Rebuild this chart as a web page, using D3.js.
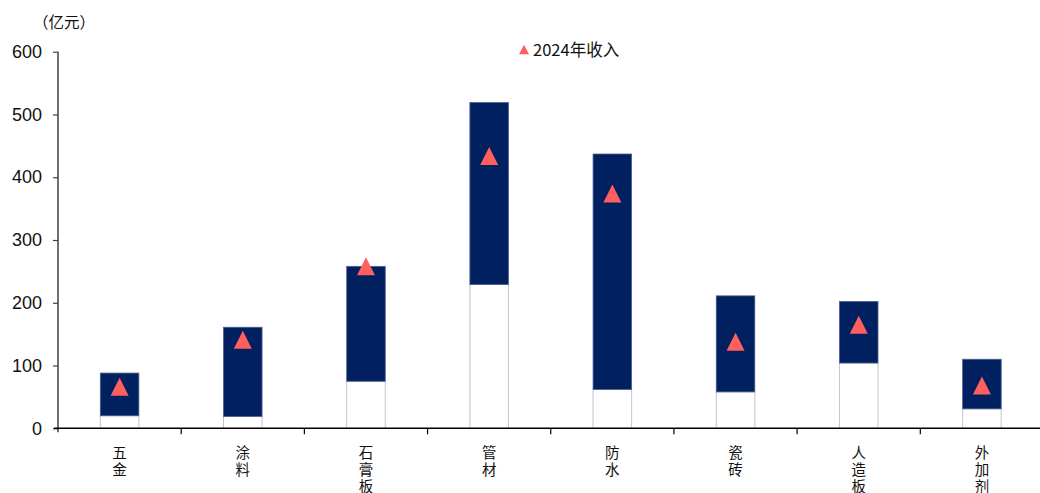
<!DOCTYPE html>
<html>
<head>
<meta charset="utf-8">
<script src="https://cdn.jsdelivr.net/npm/d3@7"></script>
<style>
  body { margin: 0; background: #fff; }
  svg { display: block; }
</style>
</head>
<body>
<svg id="chart" width="1040" height="493"></svg>
<script>
// カテゴリと値
var categories = ["五金", "涂料", "石膏板", "管材", "防水", "瓷砖", "人造板", "外加剂"];
var rangeLow = [20, 19, 75, 229, 62, 58, 104, 31];      // 区间下限
var rangeHigh = [88, 161, 258, 519, 437, 211, 202, 110]; // 区间上限
var revenue2024 = [66, 141, 258, 434, 374, 138, 165, 68]; // 2024年收入
var yTicks = [0, 100, 200, 300, 400, 500, 600];

var svg = d3.select("#chart");
// window.top と衝突しないように名前を変える
var plotL = 58, plotR = 1043.5, plotT = 51.7, plotB = 428.3;

var x = d3.scaleBand().domain(categories).range([plotL, plotR]).padding(0);
var y = d3.scaleLinear().domain([0, 600]).range([plotB, plotT]);
var barW = x.bandwidth() * 0.313;

var rows = categories.map(function (c, i) {
	return { name: c, low: rangeLow[i], high: rangeHigh[i], rev: revenue2024[i] };
});

// 白い下部バー
svg.append("g").selectAll("rect")
	.data(rows)
	.enter()
	.append("rect")
	.attr("x", function (d) { return x(d.name) + (x.bandwidth() - barW) / 2; })
	.attr("y", function (d) { return y(d.low); })
	.attr("width", barW)
	.attr("height", function (d) { return y(0) - y(d.low); })
	.attr("fill", "#fff")
	.attr("stroke", "#bcc6d8")
	.attr("stroke-width", 1);

// 濃紺の区間バー
svg.append("g").selectAll("rect")
	.data(rows)
	.enter()
	.append("rect")
	.attr("x", function (d) { return x(d.name) + (x.bandwidth() - barW) / 2; })
	.attr("y", function (d) { return y(d.high); })
	.attr("width", barW)
	.attr("height", function (d) { return y(d.low) - y(d.high); })
	.attr("fill", "#002060")
	.attr("stroke", "#4a5f8c")
	.attr("stroke-width", 0.8);

// 三角マーカー
function tri(w, h) {
	return "M0," + (-h / 2) + "L" + (w / 2) + "," + (h / 2) + "L" + (-w / 2) + "," + (h / 2) + "Z";
}
svg.append("g").selectAll("path")
	.data(rows)
	.enter()
	.append("path")
	.attr("d", tri(18, 18))
	.attr("transform", function (d) {
		return "translate(" + (x(d.name) + x.bandwidth() / 2) + "," + y(d.rev) + ")";
	})
	.attr("fill", "#ff5f5f");

// Y軸
var yAxis = svg.append("g")
	.attr("transform", "translate(" + plotL + ",0)")
	.call(d3.axisLeft(y).tickValues(yTicks).tickSize(5).tickPadding(11).tickSizeOuter(0));
yAxis.select(".domain").attr("stroke", "#404040").attr("stroke-width", 1.5)
	.attr("d", "M0," + (plotB + 4) + "V" + plotT);
yAxis.selectAll(".tick line").attr("stroke", "#404040").attr("stroke-width", 1.2);
yAxis.selectAll(".tick text")
	.attr("font-family", "'Liberation Sans', Arial, sans-serif")
	.attr("font-size", 18)
	.attr("fill", "#111");

// X軸
var bounds = categories.map(function (c) { return x(c); });
var xg = svg.append("g");
xg.append("line")
	.attr("x1", plotL - 4).attr("x2", plotR)
	.attr("y1", plotB).attr("y2", plotB)
	.attr("stroke", "#000").attr("stroke-width", 1.5);
xg.selectAll("line.tk")
	.data(bounds.slice(1))
	.enter()
	.append("line")
	.attr("class", "tk")
	.attr("x1", function (d) { return d; }).attr("x2", function (d) { return d; })
	.attr("y1", plotB).attr("y2", plotB + 6)
	.attr("stroke", "#000").attr("stroke-width", 1.2);

// 縦書きのカテゴリラベル（1文字ずつ）
var chars = [];
categories.forEach(function (c) {
	c.split("").forEach(function (ch, i) {
		chars.push({ ch: ch, cx: x(c) + x.bandwidth() / 2, row: i });
	});
});
xg.selectAll("text.cat")
	.data(chars)
	.enter()
	.append("text")
	.attr("class", "cat")
	.attr("text-anchor", "middle")
	.attr("dominant-baseline", "central")
	.attr("x", function (d) { return d.cx; })
	.attr("y", function (d) { return 451.5 + d.row * 16.8; })
	.attr("font-family", "'Noto Sans CJK SC', sans-serif")
	.attr("font-size", 14.5)
	.attr("fill", "#111")
	.text(function (d) { return d.ch; });

// 単位
svg.append("text")
	.attr("x", 33).attr("y", 28)
	.attr("font-family", "'Noto Sans CJK SC', sans-serif")
	.attr("font-size", 15.5)
	.attr("fill", "#111")
	.text("（亿元）");

// 凡例
svg.append("path")
	.attr("d", tri(10, 9.5))
	.attr("transform", "translate(524,49.5)")
	.attr("fill", "#ff5f5f");
svg.append("text")
	.attr("x", 533).attr("y", 56)
	.attr("font-family", "'Noto Sans CJK SC', sans-serif")
	.attr("font-size", 16.5)
	.attr("fill", "#111")
	.text("2024年收入");
</script>
</body>
</html>
